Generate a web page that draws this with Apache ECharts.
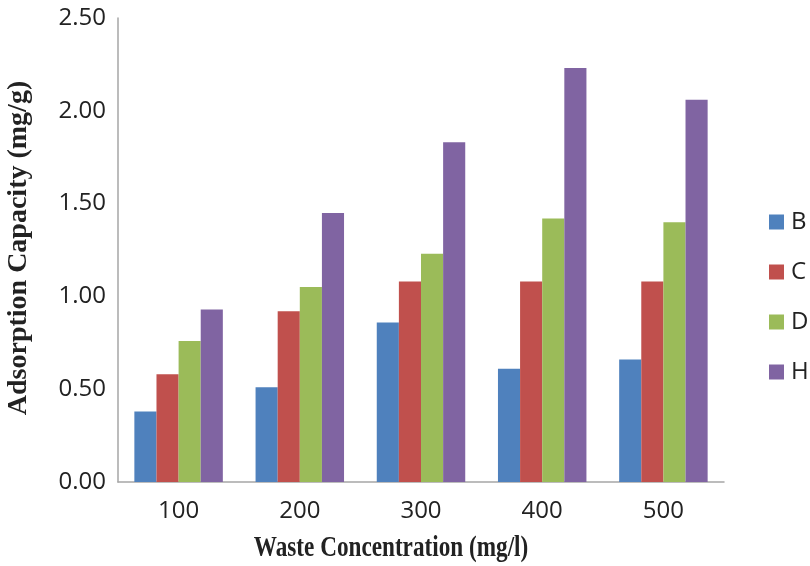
<!DOCTYPE html>
<html>
<head>
<meta charset="utf-8">
<script src="https://cdn.jsdelivr.net/npm/echarts@6/dist/echarts.min.js"></script>
<style>html,body{margin:0;padding:0;background:#fff}#c{width:810px;height:566px}</style>
</head>
<body>
<div id="c"></div>
<script>
var categories = ['100', '200', '300', '400', '500'];
var seriesNames = ['B', 'C', 'D', 'H'];
var valuesB = [0.38, 0.51, 0.86, 0.61, 0.66];
var valuesC = [0.58, 0.92, 1.08, 1.08, 1.08];
var valuesD = [0.76, 1.05, 1.23, 1.42, 1.40];
var valuesH = [0.93, 1.45, 1.83, 2.23, 2.06];
var colors = ['#4F81BD', '#C0504D', '#9BBB59', '#8064A2'];
var allValues = [valuesB, valuesC, valuesD, valuesH];
var xTitle = 'Waste Concentration (mg/l)';
var yTitle = 'Adsorption Capacity (mg/g)';

var chart = echarts.init(document.getElementById('c'));
chart.setOption({
  animation: false,
  backgroundColor: '#fff',
  grid: { left: 118, right: 86, top: 18, bottom: 84, containLabel: false, outerBoundsMode: 'none' },
  legend: {
    orient: 'vertical',
    left: 769,
    top: 210,
    padding: 0,
    itemWidth: 15,
    itemHeight: 15,
    itemGap: 26,
    icon: 'rect',
    textStyle: { fontFamily: 'Open Sans', fontSize: 24, color: '#222', padding: [0, 0, 0, 2] },
    data: seriesNames
  },
  graphic: [{
    type: 'text',
    x: 19,
    y: 248,
    rotation: Math.PI / 2,
    style: {
      text: yTitle,
      font: 'bold 28px "Liberation Serif"',
      fill: '#222',
      align: 'center',
      verticalAlign: 'middle'
    }
  }, {
    type: 'text',
    x: 391,
    y: 549,
    scaleX: 0.8,
    style: {
      text: xTitle,
      font: 'bold 29px "Liberation Serif"',
      fill: '#222',
      align: 'center',
      verticalAlign: 'middle'
    }
  }],
  xAxis: {
    type: 'category',
    data: categories,
    axisLine: { lineStyle: { color: '#A6A6A6', width: 1.5 } },
    axisTick: { show: false },
    axisLabel: { fontFamily: 'Open Sans', fontSize: 24, color: '#222', margin: 17 }
  },
  yAxis: {
    type: 'value',
    min: 0,
    max: 2.5,
    interval: 0.5,
    axisLine: { show: true, lineStyle: { color: '#A6A6A6', width: 1.5 } },
    axisTick: { show: false },
    splitLine: { show: false },
    axisLabel: {
      fontFamily: 'Open Sans', fontSize: 24, color: '#222', margin: 12,
      formatter: function (v) { return v.toFixed(2); }
    }
  },
  series: seriesNames.map(function (n, i) {
    return {
      name: n,
      type: 'bar',
      data: allValues[i],
      barGap: '0%',
      barCategoryGap: '27%',
      itemStyle: { color: colors[i] }
    };
  })
});
</script>
</body>
</html>
